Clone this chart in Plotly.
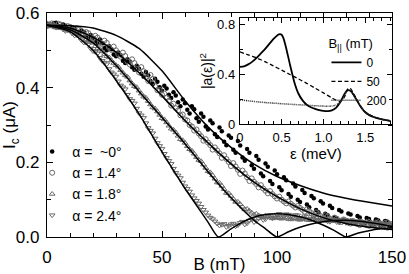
import plotly.graph_objects as go

# ---------------- main panel data ----------------
B_even = list(range(0, 151, 2))
B_odd = list(range(1, 150, 2))

ic_a00_even = [.572,.566,.574,.562,.566,.556,.559,.546,.549,.533,.534,.518,.519,.500,.503,.484,.487,.466,.470,.448,
               .451,.429,.433,.410,.416,.392,.398,.372,.379,.350,.358,.331,.342,.309,.322,.288,.305,.268,.283,.246,
               .266,.226,.245,.204,.226,.183,.207,.163,.188,.142,.168,.125,.152,.108,.135,.094,.118,.080,.104,.066,
               .090,.058,.078,.048,.068,.042,.060,.037,.052,.033,.048,.030,.044,.028,.041,.030]
ic_a00_odd = [.566,.573,.565,.569,.558,.562,.548,.553,.537,.541,.522,.529,.506,.511,.489,.494,.472,.476,.455,.459,
              .437,.442,.418,.424,.401,.405,.381,.388,.361,.368,.341,.350,.318,.331,.296,.312,.275,.293,.255,.272,
              .234,.257,.213,.236,.192,.217,.170,.197,.150,.178,.133,.160,.115,.143,.100,.126,.087,.110,.072,.096,
              .062,.084,.052,.072,.046,.063,.040,.056,.036,.051,.032,.047,.030,.043,.029]
ic_a14_even = [.565,.572,.563,.569,.558,.563,.553,.556,.543,.546,.531,.534,.517,.520,.501,.500,.483,.485,.462,.466,
               .441,.444,.418,.423,.393,.381,.373,.352,.345,.326,.315,.300,.285,.277,.258,.253,.234,.232,.212,.209,
               .190,.189,.169,.170,.150,.148,.133,.130,.117,.115,.103,.100,.090,.089,.079,.078,.068,.069,.059,.061,
               .051,.055,.045,.049,.040,.044,.036,.040,.032,.037,.030,.034,.027,.032,.025,.029]
ic_a14_odd = [.569,.564,.571,.561,.565,.555,.559,.545,.549,.535,.539,.521,.526,.507,.510,.489,.494,.470,.476,.450,
              .455,.428,.434,.404,.394,.384,.365,.357,.339,.328,.312,.296,.288,.270,.262,.246,.240,.224,.219,.201,
              .198,.180,.178,.160,.157,.142,.139,.124,.123,.109,.108,.095,.095,.084,.083,.073,.074,.064,.066,.056,
              .058,.049,.052,.043,.047,.039,.043,.035,.039,.032,.036,.029,.033,.027,.031]
ic_a18_even = [.568,.564,.566,.559,.560,.552,.550,.540,.537,.523,.520,.505,.497,.484,.473,.460,.447,.433,.419,.404,
               .392,.376,.364,.347,.336,.318,.307,.290,.280,.262,.252,.235,.223,.206,.194,.176,.165,.146,.137,.118,
               .110,.094,.088,.074,.070,.060,.058,.052,.055,.050,.053,.049,.051,.047,.050,.046,.049,.045,.048,.044,
               .047,.043,.046,.042,.045,.041,.044,.040,.043,.039,.042,.038,.041,.037,.040,.036]
ic_a18_odd = [.565,.568,.561,.563,.555,.554,.544,.542,.529,.526,.511,.504,.490,.481,.466,.456,.440,.429,.411,.401,
              .384,.373,.355,.344,.327,.315,.298,.287,.271,.259,.243,.231,.214,.203,.185,.173,.156,.145,.128,.117,
              .102,.094,.081,.075,.065,.062,.055,.057,.052,.054,.050,.052,.048,.050,.047,.048,.046,.047,.045,.046,
              .044,.045,.043,.044,.042,.043,.041,.042,.040,.041,.039,.040,.038,.039,.037]
ic_a24_even = [.566,.570,.561,.563,.552,.552,.540,.536,.521,.516,.498,.492,.472,.463,.441,.430,.406,.396,.370,.358,
               .332,.319,.292,.278,.252,.236,.212,.196,.172,.158,.136,.122,.104,.090,.073,.058,.048,.036,.033,.027,
               .034,.029,.038,.034,.044,.040,.050,.046,.056,.050,.060,.053,.061,.054,.059,.051,.056,.048,.053,.045,
               .050,.042,.047,.040,.045,.038,.043,.036,.041,.034,.039,.032,.037,.031,.035,.030]
ic_a24_odd = [.569,.564,.565,.556,.555,.545,.541,.527,.521,.505,.496,.480,.467,.450,.436,.417,.401,.381,.365,.344,
              .326,.305,.285,.264,.244,.223,.204,.183,.165,.146,.129,.112,.097,.081,.066,.052,.042,.031,.035,.030,
              .036,.032,.041,.037,.047,.043,.053,.048,.058,.052,.062,.055,.060,.053,.058,.050,.055,.047,.052,.044,
              .049,.041,.046,.039,.044,.037,.042,.035,.040,.033,.038,.032,.036,.031,.034]

# theory / fit curves
B_theory = [0,10,20,30,40,50,60,70,80,90,100,110,120,130,140,150]
ic_theory = [.567,.566,.560,.540,.505,.445,.365,.295,.240,.195,.162,.138,.118,.104,.093,.083]

B_fit14 = [0,10,20,30,40,50,60,70,80,90,100,110,120,130,140,150]
ic_fit14 = [.567,.560,.535,.495,.440,.378,.312,.252,.196,.147,.108,.076,.052,.036,.026,.020]

B_fit18 = [0,10,20,30,40,50,60,70,80,90,95,100,105,110,115,120,125,130,135,140,145,150]
ic_fit18 = [.567,.555,.520,.460,.390,.320,.250,.175,.105,.045,.022,0.0,.014,.026,.035,.041,.044,.045,.043,.039,.034,.028]

B_fit24 = [0,10,20,30,40,50,60,65,70,74.5,80,85,90,95,100,105,110,115,120,125,130,135,140,145,150]
ic_fit24 = [.567,.550,.500,.420,.330,.228,.130,.085,.040,0.0,.022,.040,.053,.060,.062,.060,.054,.045,.032,.017,0.0,.010,.017,.022,.025]

legend_names = ["α =\u00a0 ~0°", "α = 1.4°", "α = 1.8°", "α = 2.4°"]

# ---------------- inset data ----------------
eps0 = [0,0.05,0.1,0.15,0.2,0.25,0.3,0.35,0.4,0.45,0.48,0.5,0.52,0.55,0.6,0.65,0.7,0.75,0.8,0.85,0.9,0.95,1.0,1.05,1.1,1.15,1.2,1.25,1.28,1.3,1.33,1.36,1.4,1.45,1.5,1.55,1.6,1.65,1.7,1.75,1.8]
a0 = [.458,.462,.478,.500,.530,.565,.600,.640,.680,.712,.720,.715,.690,.620,.475,.340,.245,.190,.155,.135,.122,.112,.106,.104,.110,.130,.175,.240,.268,.272,.262,.235,.190,.135,.095,.072,.057,.046,.038,.031,.025]
eps50 = [0,0.1,0.2,0.3,0.4,0.5,0.6,0.7,0.8,0.9,1.0,1.1,1.15,1.2,1.25,1.28,1.3,1.33,1.36,1.4,1.45,1.5,1.55,1.6,1.7,1.8]
a50 = [.578,.555,.530,.500,.466,.432,.397,.362,.326,.288,.250,.210,.192,.180,.215,.270,.288,.280,.245,.195,.138,.098,.074,.058,.038,.025]
eps200 = [0,0.1,0.2,0.3,0.4,0.5,0.6,0.7,0.8,0.9,1.0,1.05,1.1,1.15,1.2,1.25,1.28,1.3,1.33,1.36,1.4,1.45,1.5,1.55,1.6,1.7,1.8]
a200 = [.195,.186,.179,.173,.168,.163,.159,.155,.151,.147,.144,.143,.145,.152,.175,.230,.262,.270,.262,.235,.190,.135,.095,.072,.057,.038,.025]
inset_names = ["0", "50", "200"]

FONT = "Liberation Sans, Arial, Helvetica, sans-serif"
GREY = "#6a6a6a"

fig = go.Figure()

series = [
    (ic_a00_even, ic_a00_odd, dict(symbol="circle", size=4.5, color="black")),
    (ic_a14_even, ic_a14_odd, dict(symbol="circle-open", size=5, color=GREY, line=dict(width=1))),
    (ic_a18_even, ic_a18_odd, dict(symbol="triangle-up-open", size=5, color=GREY, line=dict(width=1))),
    (ic_a24_even, ic_a24_odd, dict(symbol="triangle-down-open", size=5, color=GREY, line=dict(width=1))),
]
for name, (ye, yo, mk) in zip(legend_names, series):
    fig.add_trace(go.Scatter(x=B_even + B_odd, y=ye + yo, mode="markers", name=name, marker=mk))

# fit curves
for bx, iy in [(B_theory, ic_theory), (B_fit14, ic_fit14), (B_fit18, ic_fit18), (B_fit24, ic_fit24)]:
    fig.add_trace(go.Scatter(x=bx, y=iy, mode="lines", showlegend=False,
                             line=dict(color="black", width=1.5, shape="spline", smoothing=0.6)))

# inset curves
fig.add_trace(go.Scatter(x=eps0, y=a0, mode="lines", name=inset_names[0], xaxis="x2", yaxis="y2",
                         legend="legend2", line=dict(color="black", width=1.8, shape="spline", smoothing=0.5)))
fig.add_trace(go.Scatter(x=eps50, y=a50, mode="lines", name=inset_names[1], xaxis="x2", yaxis="y2",
                         legend="legend2", line=dict(color="black", width=1.3, dash="4px,2.5px", shape="spline", smoothing=0.5)))
fig.add_trace(go.Scatter(x=eps200, y=a200, mode="lines", name=inset_names[2], xaxis="x2", yaxis="y2",
                         legend="legend2", line=dict(color="#222", width=1.5, dash="1px,1px", shape="spline", smoothing=0.5)))

axis_common = dict(showline=True, linecolor="black", linewidth=1.2, mirror="ticks", ticks="inside",
                   showgrid=False, zeroline=False, tickcolor="black", tickwidth=1.2, automargin=False)

fig.update_layout(
    width=409, height=274,
    margin=dict(l=47, r=17, t=13, b=37),
    paper_bgcolor="white", plot_bgcolor="white",
    font=dict(family=FONT, color="black", size=16),
    xaxis=dict(**axis_common, range=[0, 150], domain=[0, 1], ticklen=6,
               tickvals=[0, 50, 100, 150], ticktext=["0", "50", "100", "150"],
               minor=dict(dtick=10, ticklen=3.5, ticks="inside", tickcolor="black", tickwidth=1.2),
               tickfont=dict(size=17), ticklabelstandoff=4,
               title=dict(text="B (mT)", font=dict(size=17), standoff=0)),
    yaxis=dict(**axis_common, range=[0, 0.6], domain=[0, 1], ticklen=6,
               tickvals=[0, 0.2, 0.4, 0.6], ticktext=["0.0", "0.2", "0.4", "0.6"],
               minor=dict(dtick=0.1, ticklen=3.5, ticks="inside", tickcolor="black", tickwidth=1.2),
               tickfont=dict(size=17), ticklabelstandoff=3,
               title=dict(text="I<sub>c</sub> (μA)", font=dict(size=17), standoff=6)),
    xaxis2=dict(**axis_common, range=[0, 1.82], domain=[0.559, 1.0], anchor="y2", ticklen=5,
                tickvals=[0, 0.5, 1.0, 1.5], ticktext=["0", "0.5", "1.0", "1.5"],
                minor=dict(dtick=0.1, ticklen=3, ticks="inside", tickcolor="black", tickwidth=1.2),
                tickfont=dict(size=13), ticklabelstandoff=1,
                title=dict(text="ε (meV)", font=dict(size=15), standoff=1)),
    yaxis2=dict(**axis_common, range=[0, 0.85], domain=[0.504, 0.978], anchor="x2", ticklen=5,
                tickvals=[0, 0.4, 0.8], ticktext=["0", "0.4", "0.8"],
                minor=dict(dtick=0.2, ticklen=3, ticks="inside", tickcolor="black", tickwidth=1.2),
                tickfont=dict(size=13), ticklabelstandoff=1,
                title=dict(text="|a(ε)|<sup>2</sup>", font=dict(size=14), standoff=1)),
    legend=dict(x=-0.043, y=0.451, xanchor="left", yanchor="top", bgcolor="rgba(0,0,0,0)",
                font=dict(size=14), itemwidth=30, tracegroupgap=0),
    legend2=dict(x=0.81, y=0.92, xanchor="left", yanchor="top", bgcolor="rgba(0,0,0,0)",
                 font=dict(size=12), itemwidth=30,
                 title=dict(text="B<sub>||</sub> (mT)", font=dict(size=13))),
)

fig.write_html("out.html", config={"displayModeBar": False},
               post_script="document.body.style.margin='0px';document.body.style.overflow='hidden';")
